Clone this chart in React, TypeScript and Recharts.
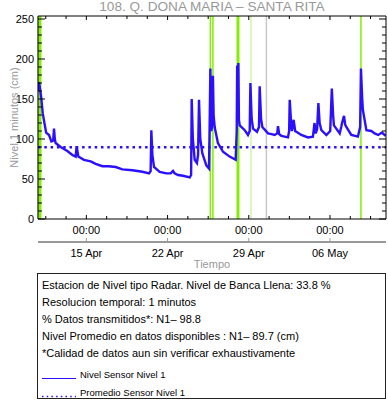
import React from 'react';
import { LineChart, Line, XAxis, YAxis, ReferenceLine, Label, Legend } from 'recharts';

// ---- data (days relative to 15 Apr 00:00, level in cm) ----
const dayOffsets = [
  -4.12, -4.08, -3.9, -3.76, -3.47, -3.22, -3.02, -2.86, -2.79, -2.72, -2.65, -2.22, -1.64, -1.21, -0.92, -0.84,
  -0.69, -0.21, 0.37, 0.8, 1.38, 1.92, 2.53, 3.1, 3.97, 4.83, 5.4, 5.54, 5.6, 5.69, 5.83, 6.32, 6.9, 7.27, 7.47,
  7.61, 7.9, 8.33, 8.91, 9.03, 9.08, 9.18, 9.34, 9.53, 9.63, 9.71, 9.82, 10.0, 10.34, 10.57, 10.63, 10.69, 10.76,
  10.83, 10.91, 10.97, 11.06, 11.34, 11.78, 12.35, 12.87, 12.96, 13.0, 13.05, 13.1, 13.15, 13.22, 13.65, 13.93,
  14.08, 14.14, 14.25, 14.37, 14.71, 14.88, 14.94, 15.06, 15.17, 15.66, 15.97, 16.23, 16.45, 16.52, 16.62, 16.81,
  17.38, 17.48, 17.53, 17.67, 17.72, 17.87, 18.0, 18.1, 18.53, 19.1, 19.53, 19.67, 19.76, 19.89, 20.0, 20.11,
  20.26, 20.69, 21.02, 21.16, 21.27, 21.34, 21.84, 21.97, 22.04, 22.21, 22.31, 22.41, 22.84, 23.41, 23.6, 23.67,
  23.78, 23.84, 24.14, 24.57, 24.85, 25.16, 25.48, 25.8,
];
const levels = [
  160, 171, 153, 132, 108, 105, 97, 98, 113, 100, 95, 90, 85, 80, 78, 91,
  78, 74, 72, 69, 66, 66, 65, 62, 61, 59, 57, 60, 111, 80, 65, 59, 57, 57, 60,
  57, 55, 54, 52, 55, 150, 100, 74, 70, 80, 149, 100, 82, 67, 63, 120, 188, 110,
  115, 179, 130, 115, 95, 84, 78, 74, 110, 192, 150, 195, 124, 117, 111, 105,
  110, 170, 125, 113, 109, 115, 166, 125, 115, 107, 106, 105, 107, 116, 106, 104,
  102, 110, 149, 115, 110, 124, 110, 109, 105, 102, 103, 120, 107, 112, 145, 120,
  111, 105, 110, 163, 130, 117, 107, 115, 120, 129, 118, 115, 105, 103, 115, 188,
  150, 136, 111, 110, 107, 105, 108, 104,
];
const meanLevel = 89.7;

const xDomain = [-4.17, 25.83];
const yDomain = [0, 253.75];
const majorDays = [0, 7, 14, 21];
const timeLabels = ['00:00', '00:00', '00:00', '00:00'];
const dateLabels = ['15 Apr', '22 Apr', '29 Apr', '06 May'];
const minorDayStep = 1.75;
const yMinorStep = 10;

const markerDays = [-4.15, -4.0, 10.69, 10.91, 13.07, 14.19, 15.52, 23.67];
const markerKinds = ['gray', 'strong', 'thin', 'thin', 'strong', 'faint', 'gray', 'thin'];

const titleText = '108. Q. DONA MARIA \u2013 SANTA RITA';
const yAxisTitle = 'Nivel 1 minutos (cm)';
const xAxisTitle = 'Tiempo';
const infoLines = [
  'Estacion de Nivel tipo Radar. Nivel de Banca Llena: 33.8 %',
  'Resolucion temporal: 1 minutos',
  '% Datos transmitidos*: N1\u2013 98.8',
  'Nivel Promedio en datos disponibles : N1\u2013 89.7 (cm)',
  '*Calidad de datos aun sin verificar exhaustivamente',
];
const seriesNames = ['Nivel Sensor Nivel 1', 'Promedio Sensor Nivel 1'];

// ---- derived ----
const seriesData = dayOffsets.map((d, i) => ({ d, v: levels[i] }));
const xTicks: number[] = [];
for (let t = -2 * minorDayStep; t <= 24.6; t += minorDayStep) xTicks.push(Math.round(t * 100) / 100);
const yTicks: number[] = [];
for (let t = 0; t <= 250; t += yMinorStep) yTicks.push(t);

const BLUE = '#2a10ff';
const GREEN = '#80f000';
const FONT = '"Liberation Sans", Arial, Helvetica, sans-serif';

const markerStyle: Record<string, { stroke: string; w: number }> = {
  gray: { stroke: '#c8c8c8', w: 1.5 },
  strong: { stroke: GREEN, w: 3 },
  thin: { stroke: GREEN, w: 1.5 },
  faint: { stroke: '#c6ef9a', w: 1.2 },
};

const majorIndex = (v: number) => majorDays.findIndex((m) => Math.abs(m - v) < 1e-6);

const BottomTick = (props: any) => {
  const { x, y, payload } = props;
  const idx = majorIndex(payload.value);
  return (
    <g>
      <line x1={x} x2={x} y1={y} y2={y - (idx >= 0 ? 4 : 3)} stroke="#000" strokeWidth={1} />
      {idx >= 0 && (
        <text x={x} y={y + 11} textAnchor="middle" dominantBaseline="central" fontSize={11} fill="#000" fontFamily={FONT}>
          {timeLabels[idx]}
        </text>
      )}
    </g>
  );
};

const TopTick = (props: any) => {
  const { x, y, payload } = props;
  const idx = majorIndex(payload.value);
  return <line x1={x} x2={x} y1={y} y2={y + (idx >= 0 ? 4 : 3)} stroke="#000" strokeWidth={1} />;
};

const DateTick = (props: any) => {
  const { x, y, payload } = props;
  const idx = majorIndex(payload.value);
  return (
    <g>
      <line x1={x} x2={x} y1={y} y2={y - 4} stroke="#999" strokeWidth={1} />
      <text x={x} y={y + 10.5} textAnchor="middle" dominantBaseline="central" fontSize={11} fill="#000" fontFamily={FONT}>
        {dateLabels[idx]}
      </text>
    </g>
  );
};

const LeftTick = (props: any) => {
  const { x, y, payload } = props;
  const major = payload.value % 50 === 0;
  return (
    <g>
      <line x1={x} x2={x + (major ? 7 : 4)} y1={y} y2={y} stroke="#000" strokeWidth={1} />
      {major && (
        <text x={x - 4} y={y} textAnchor="end" dominantBaseline="central" fontSize={11} fill="#000" fontFamily={FONT}>
          {payload.value}
        </text>
      )}
    </g>
  );
};

const RightTick = (props: any) => {
  const { x, y, payload } = props;
  const major = payload.value % 50 === 0;
  return <line x1={x} x2={x - (major ? 7 : 4)} y1={y} y2={y} stroke="#000" strokeWidth={1} />;
};

const LegendBox = () => (
  <div
    style={{
      width: 349,
      height: 126,
      border: '1px solid #222',
      boxSizing: 'border-box',
      padding: '3px 0 0 4px',
      fontFamily: FONT,
      color: '#000',
      background: '#fff',
    }}
  >
    {infoLines.map((t, i) => (
      <div key={i} style={{ fontSize: 11, lineHeight: '17px', height: 17, whiteSpace: 'nowrap' }}>
        {t}
      </div>
    ))}
    <div style={{ height: 4 }} />
    {seriesNames.map((name, i) => (
      <div key={name} style={{ display: 'flex', alignItems: 'center', height: 17.5, fontSize: 9.5, whiteSpace: 'nowrap' }}>
        <svg width={34} height={17.5} style={{ display: 'block' }}>
          <line
            x1={0}
            x2={34}
            y1={12.5}
            y2={12.5}
            stroke={BLUE}
            strokeWidth={i === 0 ? 1.2 : 1.5}
            strokeDasharray={i === 0 ? undefined : '1.5 3.2'}
          />
        </svg>
        <span style={{ marginLeft: 4 }}>{name}</span>
      </div>
    ))}
  </div>
);

export default function App() {
  return (
    <div style={{ position: 'absolute', left: 0, top: 0, fontFamily: FONT, background: '#fff' }}>
      <LineChart width={388} height={404} margin={{ top: 0, right: 0, bottom: 132, left: 0 }}>
        <XAxis
          xAxisId="a"
          dataKey="d"
          type="number"
          domain={xDomain}
          ticks={xTicks}
          interval={0}
          allowDataOverflow
          height={23}
          tickSize={0}
          tickMargin={0}
          tick={<BottomTick />}
          axisLine={{ stroke: '#000', strokeWidth: 1 }}
        />
        <XAxis
          xAxisId="b"
          dataKey="d"
          type="number"
          domain={xDomain}
          ticks={majorDays}
          interval={0}
          allowDataOverflow
          height={30}
          tickSize={0}
          tickMargin={0}
          tick={<DateTick />}
          axisLine={{ stroke: '#999', strokeWidth: 2 }}
        >
          <Label value={xAxisTitle} position="center" dy={7} fontSize={11} fill="#999" fontFamily={FONT} />
        </XAxis>
        <XAxis
          xAxisId="top"
          dataKey="d"
          type="number"
          orientation="top"
          domain={xDomain}
          ticks={xTicks}
          interval={0}
          allowDataOverflow
          height={16}
          tickSize={0}
          tickMargin={0}
          tick={<TopTick />}
          axisLine={{ stroke: '#000', strokeWidth: 1 }}
        >
          <Label value={titleText} position="center" dy={-1.5} fontSize={13.6} fill="#999" fontFamily={FONT} />
        </XAxis>
        <YAxis
          yAxisId="left"
          type="number"
          domain={yDomain}
          ticks={yTicks}
          interval={0}
          allowDataOverflow
          width={38}
          tickSize={0}
          tickMargin={0}
          tick={<LeftTick />}
          axisLine={{ stroke: '#000', strokeWidth: 1 }}
        >
          <Label value={yAxisTitle} position="center" angle={-90} dx={-5} fontSize={11} fill="#999" fontFamily={FONT} />
        </YAxis>
        <YAxis
          yAxisId="right"
          orientation="right"
          type="number"
          domain={yDomain}
          ticks={yTicks}
          interval={0}
          allowDataOverflow
          width={2}
          tickSize={0}
          tickMargin={0}
          tick={<RightTick />}
          axisLine={{ stroke: '#000', strokeWidth: 1 }}
        />
        {markerDays.map((d, i) => (
          <ReferenceLine
            key={'m' + i}
            xAxisId="a"
            yAxisId="left"
            x={d}
            stroke={markerStyle[markerKinds[i]].stroke}
            strokeWidth={markerStyle[markerKinds[i]].w}
          />
        ))}
        <ReferenceLine
          xAxisId="a"
          yAxisId="left"
          y={meanLevel}
          stroke={BLUE}
          strokeWidth={2.5}
          strokeDasharray="2.5 3.8"
        />
        <Line
          xAxisId="a"
          yAxisId="left"
          data={seriesData}
          dataKey="v"
          type="linear"
          stroke={BLUE}
          strokeWidth={2.4}
          dot={false}
          isAnimationActive={false}
        />
        <Legend
          layout="horizontal"
          verticalAlign="middle"
          align="center"
          wrapperStyle={{ left: 37, top: 273, width: 349, height: 126 }}
          content={() => <LegendBox />}
        />
      </LineChart>
    </div>
  );
}
